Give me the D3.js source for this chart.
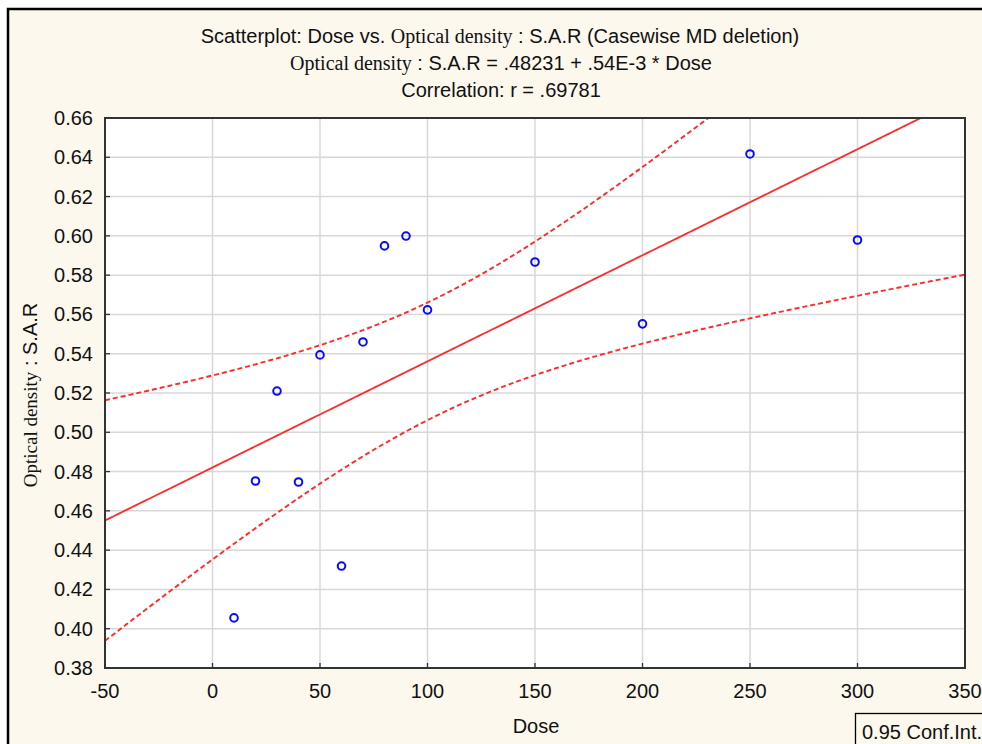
<!DOCTYPE html>
<html>
<head>
<meta charset="utf-8">
<script src="https://cdn.jsdelivr.net/npm/d3@7"></script>
<style>
body{margin:0;background:#fff;}
svg text{font-family:Arial,"Liberation Sans",sans-serif;fill:#111;}
.serif{font-family:"Liberation Serif","Times New Roman",serif;}
</style>
</head>
<body>
<svg id="chart" width="982" height="744"></svg>
<script>
// data
var dose = [10, 20, 30, 40, 50, 60, 70, 80, 90, 100, 150, 200, 250, 300];
var density = [0.4055, 0.4752, 0.5210, 0.4747, 0.5394, 0.4319, 0.5460, 0.5949, 0.5999, 0.5623, 0.5867, 0.5552, 0.6417, 0.5979];
var xTicks = [-50, 0, 50, 100, 150, 200, 250, 300, 350];
var yTicks = [0.38, 0.40, 0.42, 0.44, 0.46, 0.48, 0.50, 0.52, 0.54, 0.56, 0.58, 0.60, 0.62, 0.64, 0.66];
var tCrit = 2.1788; // t(0.975, 12)

var svg = d3.select("#chart");

// frame
svg.append("rect").attr("x", 8).attr("y", 9).attr("width", 990).attr("height", 750)
  .attr("fill", "#fdf8ee").attr("stroke", "#000").attr("stroke-width", 2.5);

var pL = 105, pR = 965, pT = 118, pB = 668;
var x = d3.scaleLinear().domain([-50, 350]).range([pL, pR]);
var y = d3.scaleLinear().domain([0.38, 0.66]).range([pB, pT]);

svg.append("rect").attr("x", pL).attr("y", pT).attr("width", pR - pL).attr("height", pB - pT)
  .attr("fill", "#fff");

// grid
svg.append("g").selectAll("line").data(xTicks.slice(1, -1)).enter().append("line")
  .attr("x1", d => x(d)).attr("x2", d => x(d)).attr("y1", pT).attr("y2", pB)
  .attr("stroke", "#d8d8d8").attr("stroke-width", 1.5);
svg.append("g").selectAll("line").data(yTicks.slice(1, -1)).enter().append("line")
  .attr("y1", d => y(d)).attr("y2", d => y(d)).attr("x1", pL).attr("x2", pR)
  .attr("stroke", "#d8d8d8").attr("stroke-width", 1.5);

// regression + confidence band
var n = dose.length, mx = d3.mean(dose), my = d3.mean(density);
var sxx = d3.sum(dose, d => (d - mx) * (d - mx));
var sxy = d3.sum(dose, (d, i) => (d - mx) * (density[i] - my));
var slope = sxy / sxx, icpt = my - slope * mx;
var sse = d3.sum(dose, (d, i) => Math.pow(density[i] - (icpt + slope * d), 2));
var se = Math.sqrt(sse / (n - 2));

var xs = d3.range(-50, 350.1, 2);
function half(v){ return tCrit * se * Math.sqrt(1 / n + (v - mx) * (v - mx) / sxx); }

svg.append("clipPath").attr("id", "clip").append("rect")
  .attr("x", pL).attr("y", pT).attr("width", pR - pL).attr("height", pB - pT);
var g = svg.append("g").attr("clip-path", "url(#clip)");

var line = d3.line().x(d => x(d[0])).y(d => y(d[1]));
g.append("path").attr("d", line(xs.map(v => [v, icpt + slope * v])))
  .attr("fill", "none").attr("stroke", "#ff2a2a").attr("stroke-width", 1.8);
[1, -1].forEach(function(s){
  g.append("path").attr("d", line(xs.map(v => [v, icpt + slope * v + s * half(v)])))
    .attr("fill", "none").attr("stroke", "#ff2a2a").attr("stroke-width", 1.9)
    .attr("stroke-dasharray", "5,3");
});

// points
svg.append("g").selectAll("circle").data(dose).enter().append("circle")
  .attr("cx", d => x(d)).attr("cy", (d, i) => y(density[i])).attr("r", 3.8)
  .attr("fill", "none").attr("stroke", "#0a0aff").attr("stroke-width", 2);

// plot border and ticks
svg.append("rect").attr("x", pL).attr("y", pT).attr("width", pR - pL).attr("height", pB - pT)
  .attr("fill", "none").attr("stroke", "#333").attr("stroke-width", 2);
svg.append("g").selectAll("line").data(xTicks).enter().append("line")
  .attr("x1", d => x(d)).attr("x2", d => x(d)).attr("y1", pB).attr("y2", pB - 5)
  .attr("stroke", "#333").attr("stroke-width", 1.3);
svg.append("g").selectAll("line").data(yTicks).enter().append("line")
  .attr("y1", d => y(d)).attr("y2", d => y(d)).attr("x1", pL).attr("x2", pL + 5)
  .attr("stroke", "#333").attr("stroke-width", 1.3);

// tick labels
svg.append("g").selectAll("text").data(xTicks).enter().append("text")
  .attr("x", d => x(d)).attr("y", 698).attr("text-anchor", "middle")
  .attr("font-size", 20).text(d => d);
svg.append("g").selectAll("text").data(yTicks).enter().append("text")
  .attr("x", 93).attr("y", d => y(d) + 7).attr("text-anchor", "end")
  .attr("font-size", 20).text(d => d.toFixed(2));

// titles
var t1 = svg.append("text").attr("x", 500).attr("y", 43).attr("text-anchor", "middle").attr("font-size", 20);
t1.append("tspan").text("Scatterplot: Dose vs. ");
t1.append("tspan").attr("class", "serif").text("Optical density");
t1.append("tspan").text(" : S.A.R (Casewise MD deletion)");
var t2 = svg.append("text").attr("x", 501).attr("y", 70).attr("text-anchor", "middle").attr("font-size", 20);
t2.append("tspan").attr("class", "serif").text("Optical density");
t2.append("tspan").text(" : S.A.R = .48231 + .54E-3 * Dose");
svg.append("text").attr("x", 501).attr("y", 97).attr("text-anchor", "middle").attr("font-size", 20)
  .text("Correlation: r = .69781");

// axis titles
var yl = svg.append("text").attr("transform", "translate(37,395) rotate(-90)")
  .attr("text-anchor", "middle").attr("font-size", 20);
yl.append("tspan").attr("class", "serif").attr("font-size", 19).text("Optical density");
yl.append("tspan").text(" : S.A.R");
svg.append("text").attr("x", 536).attr("y", 733).attr("text-anchor", "middle").attr("font-size", 20).text("Dose");

// legend box
svg.append("rect").attr("x", 855.5).attr("y", 713.5).attr("width", 140).attr("height", 40)
  .attr("fill", "#fdf8ee").attr("stroke", "#000").attr("stroke-width", 1.3);
svg.append("text").attr("x", 862).attr("y", 739).attr("font-size", 20).text("0.95 Conf.Int.");
</script>
</body>
</html>
